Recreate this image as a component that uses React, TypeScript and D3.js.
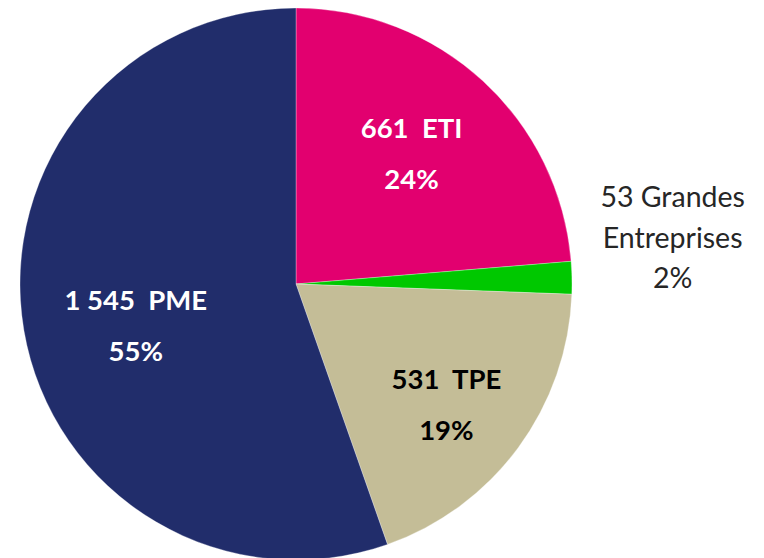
import React from "react";
import * as d3 from "d3";

const categories = ["ETI", "Grandes Entreprises", "TPE", "PME"];
const counts = [661, 53, 531, 1545];
const percents = ["24%", "2%", "19%", "55%"];
const countLabels = ["661", "53", "531", "1 545"];
const colors = ["#E2006F", "#00C800", "#C4BD97", "#212D6B"];

const W = 764;
const H = 558;
const cx = 296;
const cy = 284;
const R = 276;

// label placement (radius as fraction of R, angle offset in degrees)
const labelPlacement = [
  { r: 0.63, dAng: -1, dy: 0 },
  { r: 1.365, dAng: 0, dy: -38 },
  { r: 0.7, dAng: 2.5, dy: 0 },
  { r: 0.6, dAng: -5, dy: 0 },
];

export default function App() {
  const data = categories.map((c, i) => ({ c, v: counts[i], i }));
  const pie = d3.pie<any>().value((d) => d.v).sort(null);
  const arcs = pie(data);
  const arc = d3.arc<any>().innerRadius(0).outerRadius(R);

  return (
    <svg
      width={W}
      height={H}
      style={{ position: "absolute", left: 0, top: 0, background: "#fff" }}
    >
      <g transform={`translate(${cx},${cy})`}>
        {arcs.map((a, i) => (
          <path
            key={i}
            d={arc(a) as string}
            fill={colors[i]}
            stroke="#ffffff"
            strokeWidth={0.6}
            strokeOpacity={0.5}
          />
        ))}
        {arcs.map((a, i) => {
          const p = labelPlacement[i];
          const mid = (a.startAngle + a.endAngle) / 2 + (p.dAng * Math.PI) / 180;
          const lr = p.r * R;
          const x = Math.sin(mid) * lr;
          const y = -Math.cos(mid) * lr + p.dy;
          if (i === 1) {
            return (
              <text
                key={i}
                x={x}
                y={y}
                textAnchor="middle"
                fontFamily="Lato, 'Open Sans', sans-serif"
                fontSize={28.5}
                fill="#262626"
              >
                <tspan x={x} dy={-31}>{`${countLabels[i]} Grandes`}</tspan>
                <tspan x={x} dy={41}>Entreprises</tspan>
                <tspan x={x} dy={40}>{percents[i]}</tspan>
              </text>
            );
          }
          const fill = i === 2 ? "#000000" : "#ffffff";
          return (
            <text
              key={i}
              x={x}
              y={y}
              textAnchor="middle"
              fontFamily="Lato, 'Open Sans', sans-serif"
              fontWeight="bold"
              fontSize={27.5}
              fill={fill}
              style={{ whiteSpace: "pre" }}
            >
              <tspan x={x} dy={-16}>{`${countLabels[i]}  ${categories[i]}`}</tspan>
              <tspan x={x} dy={51}>{percents[i]}</tspan>
            </text>
          );
        })}
      </g>
    </svg>
  );
}
